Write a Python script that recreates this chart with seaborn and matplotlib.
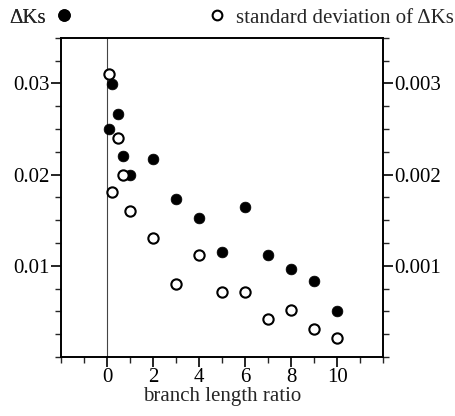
import numpy as np
import pandas as pd
import matplotlib
matplotlib.use("Agg")
import matplotlib.pyplot as plt
import seaborn as sns
from matplotlib.lines import Line2D
from matplotlib.ticker import MultipleLocator

# branch length ratio vs. mean delta Ks (left axis) and its standard deviation (right axis)
ratio = [0.1, 0.2, 0.5, 0.7, 1, 2, 3, 4, 5, 6, 7, 8, 9, 10]
delta_ks = [0.0250, 0.0299, 0.0267, 0.0220, 0.0200, 0.0217, 0.01735, 0.0152,
            0.0115, 0.0165, 0.0112, 0.0096, 0.0083, 0.0050]
sd_delta_ks = [0.00310, 0.00181, 0.00240, 0.00200, 0.00160, 0.00131, 0.00080,
               0.00112, 0.00071, 0.00071, 0.00042, 0.00052, 0.00031, 0.00021]

df = pd.DataFrame({"ratio": ratio, "dks": delta_ks, "sd": sd_delta_ks})

FS = 15

sns.set_style("ticks")
plt.rcParams["font.family"] = ["Liberation Serif", "DejaVu Serif"]
plt.rcParams["font.size"] = FS

fig = plt.figure(figsize=(4.55, 4.16), dpi=100)
ax = fig.add_axes([0.134, 0.142, 0.708, 0.767])
ax2 = ax.twinx()

ax.axvline(0, color="#444444", lw=0.8, zorder=0)

sns.scatterplot(data=df, x="ratio", y="dks", ax=ax, color="black",
                s=60, edgecolor="black", linewidth=0.5, zorder=3)
sns.scatterplot(data=df, x="ratio", y="sd", ax=ax2, facecolor="white",
                s=55, edgecolor="black", linewidth=1.5, zorder=3)

ax.set_xlim(-2, 12)
ax.set_ylim(0, 0.035)
ax2.set_ylim(0, 0.0035)

ax.set_xticks([0, 2, 4, 6, 8, 10])
ax.xaxis.set_minor_locator(MultipleLocator(1))
ax.set_yticks([0.01, 0.02, 0.03])
ax.set_yticklabels(["0.01", "0.02", "0.03"])
ax.yaxis.set_minor_locator(MultipleLocator(0.0025))
ax2.set_yticks([0.001, 0.002, 0.003])
ax2.set_yticklabels(["0.001", "0.002", "0.003"])
ax2.yaxis.set_minor_locator(MultipleLocator(0.00025))

for a in (ax, ax2):
    a.tick_params(which="major", length=7, width=1.2, direction="out",
                  labelsize=FS, pad=1, colors="black")
    a.tick_params(which="minor", length=4, width=1.0, direction="out")
    for sp in a.spines.values():
        sp.set_linewidth(1.2)
        sp.set_color("black")

ax.set_xlabel("branch length ratio", fontsize=FS, labelpad=0)
ax.set_ylabel("")
ax2.set_ylabel("")

filled = Line2D([], [], marker="o", ls="none", color="black", markersize=8)
hollow = Line2D([], [], marker="o", ls="none", markerfacecolor="white",
                markeredgecolor="black", markeredgewidth=1.5, markersize=7)
leg1 = fig.legend([filled], ["\u0394Ks"], loc="center left", bbox_to_anchor=(0.02, 0.957),
                  frameon=False, markerfirst=False, handlelength=1.0,
                  handletextpad=0.4, borderpad=0, borderaxespad=0, fontsize=FS)
fig.legend([hollow], ["standard deviation of \u0394Ks"], loc="center right",
           bbox_to_anchor=(0.997, 0.957), frameon=False, handlelength=1.0,
           handletextpad=0.4, borderpad=0, borderaxespad=0, fontsize=FS)
fig.add_artist(leg1)

fig.savefig("out.png", dpi=100)
